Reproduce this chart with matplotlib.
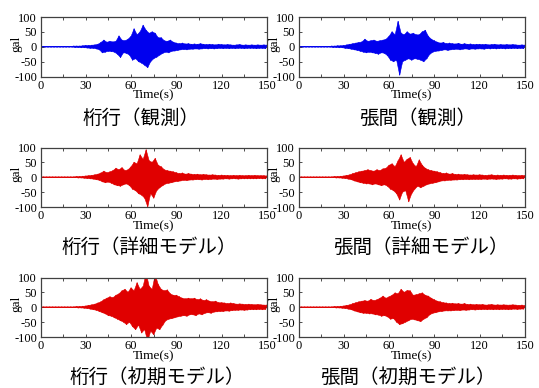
import numpy as np
import matplotlib
matplotlib.use('Agg')
import matplotlib.pyplot as plt
from matplotlib.ticker import FixedLocator, FixedFormatter, MultipleLocator

plt.rcParams['font.family'] = ['Liberation Serif', 'DejaVu Serif']

# ---------------- data ----------------
# upper envelope peaks at t = 0,2,...,150 s ; lower envelope peaks (magnitude) at t = 1,3,...,149 s
t_up = list(range(0, 151, 2))
t_dn = list(range(1, 150, 2))

xtick_vals = [0, 30, 60, 90, 120, 150]
xtick_labels = ['0', '30', '60', '90', '120', '150']
ytick_vals = [-100, -50, 0, 50, 100]
ytick_labels = ['-100', '-50', '0', '50', '100']

titles = ['桁行（観測）', '張間（観測）',
          '桁行（詳細モデル）', '張間（詳細モデル）',
          '桁行（初期モデル）', '張間（初期モデル）']

# 桁行（観測）
a_up = [1,1,1,1,1,1,1,1,1,1,
        1,2,2,2,3,4,4,5,6,8,
        14,22,15,18,16,18,36,22,20,25,
        35,60,40,50,72,55,45,50,45,30,
        30,20,18,22,15,12,10,12,9,10,
        8,9,8,10,8,7,8,7,6,8,
        7,6,7,6,5,6,7,5,6,5,
        6,5,6,5,6,5]
a_dn = [1,1,1,1,1,1,1,1,1,1,
        1,2,2,3,3,4,5,5,7,10,
        20,18,15,16,18,25,36,20,22,28,
        45,40,50,55,62,70,50,40,35,28,
        22,18,20,15,14,12,10,9,10,8,
        8,7,8,7,6,7,6,7,6,5,
        6,5,6,5,6,5,5,6,5,5,
        5,6,5,5,6]

# 張間（観測）
b_up = [1,1,1,1,1,1,1,1,1,1,
        1,2,2,3,3,4,6,8,10,12,
        14,16,25,18,20,22,18,20,22,25,
        35,50,40,85,45,40,50,42,45,40,
        40,50,55,35,25,20,15,12,14,10,
        12,10,9,11,8,10,8,9,7,8,
        8,7,8,6,7,8,6,7,6,7,
        6,7,6,5,6,5]
b_dn = [1,1,1,1,1,1,1,1,1,1,
        1,2,2,3,3,5,6,8,10,12,
        15,18,20,18,20,22,25,20,22,30,
        45,50,45,95,50,45,40,45,40,42,
        45,50,40,25,18,15,14,12,10,12,
        10,9,8,10,8,7,9,7,8,7,
        7,8,6,7,6,7,6,6,7,6,
        6,5,6,5,6]

# 桁行（詳細モデル）
c_up = [1,1,1,1,1,1,1,1,1,1,
        1,1,2,2,3,4,5,6,8,10,
        14,20,15,18,22,30,25,32,22,25,
        35,50,45,75,60,92,55,50,63,40,
        35,25,22,20,18,15,12,14,10,12,
        10,9,10,8,9,8,7,8,7,6,
        7,6,6,5,6,5,6,5,5,6,
        5,6,5,5,5,4]
c_dn = [1,1,1,1,1,1,1,1,1,1,
        1,1,2,2,3,4,5,6,8,10,
        15,18,16,20,25,28,30,25,22,28,
        40,45,55,60,70,99,55,70,45,35,
        28,22,20,18,15,14,12,10,11,9,
        9,8,8,9,7,8,7,6,7,6,
        6,5,6,5,5,6,5,5,5,5,
        5,5,4,5,5]

# 張間（詳細モデル）
d_up = [1,1,1,1,1,1,1,1,1,1,
        1,1,2,2,3,4,6,8,12,15,
        18,20,22,25,22,20,25,22,28,30,
        40,45,35,55,75,50,60,66,45,35,
        58,40,30,25,22,20,18,15,12,14,
        10,12,9,10,8,9,8,7,8,7,
        8,7,6,7,8,6,7,6,7,6,
        6,7,6,5,6,5]
d_dn = [1,1,1,1,1,1,1,1,1,1,
        1,1,2,2,3,4,6,8,12,15,
        18,20,22,22,25,22,25,28,25,30,
        40,45,55,76,50,45,82,55,40,30,
        35,30,25,22,20,18,15,12,12,10,
        10,9,9,8,8,7,8,7,7,7,
        7,6,7,6,6,7,6,6,5,6,
        6,5,6,5,5]

# 桁行（初期モデル）
e_up = [1,1,1,1,1,1,1,1,1,1,
        1,1,2,2,3,4,6,8,10,14,
        18,25,30,35,32,40,45,55,60,50,
        65,55,82,60,70,115,70,60,110,76,
        60,55,58,45,40,40,35,30,28,30,
        28,30,25,28,22,25,20,18,20,15,
        15,14,12,14,12,10,11,10,9,10,
        9,8,9,8,7,7]
e_dn = [1,1,1,1,1,1,1,1,1,1,
        1,1,2,2,3,4,6,8,10,14,
        18,22,28,30,35,40,45,50,58,50,
        65,75,60,86,75,115,80,92,70,75,
        60,45,40,38,35,32,30,28,30,25,
        25,28,22,25,20,18,20,16,15,14,
        14,12,13,11,10,10,9,10,9,8,
        8,8,7,8,7]

# 張間（初期モデル）
f_up = [1,1,1,1,1,1,1,1,1,1,
        1,1,2,2,3,4,6,8,12,15,
        18,20,22,20,26,22,25,30,37,30,
        35,40,48,45,60,50,56,55,40,42,
        45,48,40,37,30,25,20,18,15,14,
        12,13,11,12,10,12,9,10,8,9,
        8,9,7,8,9,7,8,7,8,7,
        7,8,7,6,7,5]
f_dn = [1,1,1,1,1,1,1,1,1,1,
        1,1,2,2,3,4,6,8,12,15,
        18,20,20,22,22,25,26,30,28,32,
        40,38,50,58,55,50,45,40,42,45,
        48,40,35,25,20,18,15,14,12,12,
        12,11,10,11,9,10,9,8,9,8,
        8,7,8,7,8,7,8,7,7,8,
        7,6,7,6,6]

series = [(a_up, a_dn), (b_up, b_dn), (c_up, c_dn),
          (d_up, d_dn), (e_up, e_dn), (f_up, f_dn)]
colors = ['#0000ee', '#0000ee', '#e00000', '#e00000', '#e00000', '#e00000']

# ---------------- layout ----------------
W, H = 539, 388
fig = plt.figure(figsize=(W / 100, H / 100), dpi=100)

col_left = [40.5, 298.5]
ax_w = 226.5
row_top = [17, 147.5, 277.5]
ax_h = 59.5

title_pos = [(141, 118), (418, 118), (149, 247), (421, 247), (157, 377), (408, 377)]

for i, ((up, dn), color) in enumerate(zip(series, colors)):
    r, c = divmod(i, 2)
    left = col_left[c] / W
    bottom = 1 - (row_top[r] + ax_h) / H
    ax = fig.add_axes([left, bottom, ax_w / W, ax_h / H])

    up_a = np.asarray(up, dtype=float)
    dn_a = -np.asarray(dn, dtype=float)
    tu = np.asarray(t_up, dtype=float)
    td = np.asarray(t_dn, dtype=float)

    # filled envelope polygon (upper peaks forward, lower peaks backward)
    ax.fill(np.r_[tu, td[::-1]], np.r_[up_a, dn_a[::-1]],
            color=color, lw=0.4)
    # oscillating trace between the peaks
    t = np.empty(len(tu) + len(td))
    v = np.empty(len(tu) + len(td))
    t[0::2] = tu
    t[1::2] = td
    v[0::2] = up_a
    v[1::2] = dn_a
    ax.plot(t, v, color=color, lw=0.7)

    ax.set_xlim(0, 150)
    ax.set_ylim(-100, 100)
    ax.xaxis.set_major_locator(FixedLocator(xtick_vals))
    ax.xaxis.set_major_formatter(FixedFormatter(xtick_labels))
    ax.xaxis.set_minor_locator(MultipleLocator(15))
    ax.yaxis.set_major_locator(FixedLocator(ytick_vals))
    ax.yaxis.set_major_formatter(FixedFormatter(ytick_labels))
    ax.tick_params(which='both', direction='in', top=True, right=True,
                   length=2.5, width=0.6, colors='#303030',
                   labelcolor='black', labelsize=9, pad=2.5)
    for sp in ax.spines.values():
        sp.set_color('#404040')
        sp.set_linewidth(0.9)

    ax.set_xlabel('Time(s)', fontsize=9.5)
    ax.xaxis.set_label_coords(0.5, -0.215)
    ax.set_ylabel('gal', fontsize=9.5)
    ax.yaxis.set_label_coords(-0.082, 0.55)

    tx, ty = title_pos[i]
    fig.text(tx / W, 1 - ty / H, titles[i], ha='center', va='center',
             fontsize=14, fontfamily=['Noto Sans CJK JP', 'DejaVu Sans'])

fig.savefig('out.png', dpi=100)
